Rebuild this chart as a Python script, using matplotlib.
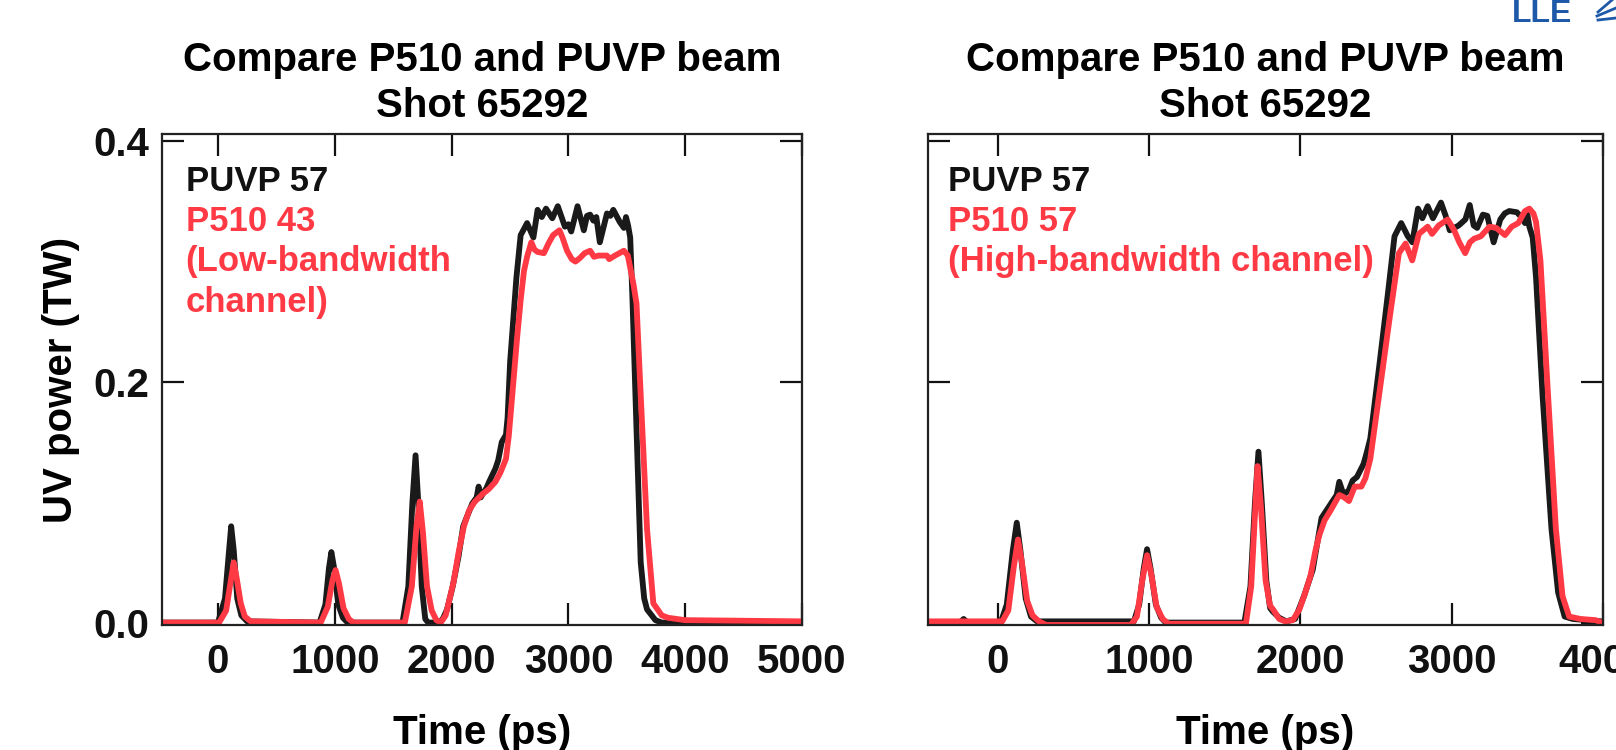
import matplotlib
matplotlib.use("Agg")
import matplotlib.pyplot as plt
from matplotlib.lines import Line2D

plt.rcParams['font.family'] = ['Liberation Sans', 'DejaVu Sans']
plt.rcParams['font.weight'] = 'bold'

# --- data ---
# left panel, PUVP 57 (black)
left_black_t = [-480, 0, 60, 95, 113, 135, 165, 200, 250, 870, 920, 950, 971, 995, 1030, 1070, 1110,
                1580, 1630, 1665, 1692, 1715, 1745, 1775, 1800, 1900, 1930, 1962, 2010, 2060, 2100,
                2124, 2178, 2215, 2232, 2250, 2268, 2300, 2322, 2376, 2400, 2430, 2466, 2480, 2502,
                2556, 2592, 2620, 2647, 2701, 2737, 2773, 2809, 2863, 2910, 2971, 3000, 3025, 3079,
                3133, 3160, 3187, 3215, 3240, 3270, 3331, 3360, 3385, 3440, 3476, 3494, 3512, 3530,
                3548, 3584, 3620, 3650, 3674, 3746, 3800, 5000]
left_black_p = [0, 0, 0.020, 0.060, 0.080, 0.060, 0.020, 0.006, 0.001, 0, 0.015, 0.045, 0.0586, 0.045,
                0.015, 0.004, 0, 0, 0.030, 0.100, 0.139, 0.100, 0.030, 0.003, 0, 0, 0.004, 0.011,
                0.030, 0.055, 0.080, 0.086, 0.099, 0.104, 0.113, 0.104, 0.107, 0.112, 0.117, 0.128,
                0.135, 0.150, 0.156, 0.170, 0.217, 0.287, 0.322, 0.327, 0.332, 0.320, 0.343, 0.337,
                0.344, 0.336, 0.346, 0.329, 0.331, 0.325, 0.346, 0.326, 0.338, 0.339, 0.334, 0.337,
                0.316, 0.340, 0.338, 0.343, 0.333, 0.328, 0.337, 0.330, 0.320, 0.273, 0.161, 0.050,
                0.020, 0.011, 0.002, 0, 0]

# left panel, P510 43 low-bandwidth channel (red)
left_red_t = [-480, 10, 70, 110, 135, 160, 195, 230, 280, 880, 940, 980, 1007, 1035, 1075, 1120, 1160,
              1600, 1660, 1700, 1728, 1755, 1790, 1830, 1870, 1908, 1950, 2016, 2060, 2106, 2150,
              2196, 2268, 2320, 2376, 2420, 2466, 2490, 2520, 2560, 2592, 2620, 2647, 2683, 2710,
              2737, 2791, 2830, 2870, 2924, 2950, 2989, 3030, 3061, 3100, 3140, 3187, 3220, 3260,
              3331, 3350, 3400, 3476, 3510, 3530, 3560, 3584, 3620, 3674, 3728, 3800, 3854, 4000, 5000]
left_red_p = [0, 0, 0.010, 0.035, 0.050, 0.037, 0.016, 0.005, 0.001, 0, 0.013, 0.035, 0.0436, 0.033,
              0.012, 0.003, 0, 0, 0.030, 0.080, 0.1005, 0.075, 0.030, 0.010, 0.002, 0, 0.006, 0.033,
              0.058, 0.080, 0.093, 0.100, 0.107, 0.111, 0.117, 0.125, 0.136, 0.155, 0.189, 0.235,
              0.268, 0.292, 0.304, 0.316, 0.310, 0.308, 0.307, 0.315, 0.322, 0.326, 0.320, 0.309,
              0.302, 0.300, 0.303, 0.307, 0.309, 0.304, 0.305, 0.305, 0.302, 0.305, 0.309, 0.305,
              0.295, 0.280, 0.265, 0.189, 0.078, 0.016, 0.006, 0.004, 0.002, 0.001]

# right panel, PUVP 57 (black)
right_black_t = [-460, -250, -225, -200, 20, 60, 100, 126, 150, 185, 220, 260, 900, 935, 965, 987, 1010,
                 1045, 1080, 1110, 1630, 1670, 1700, 1723, 1745, 1775, 1800, 1819, 1860, 1907, 1965,
                 2024, 2082, 2140, 2213, 2240, 2257, 2286, 2320, 2345, 2374, 2418, 2440, 2462, 2520,
                 2578, 2622, 2666, 2710, 2740, 2777, 2806, 2841, 2876, 2929, 2960, 2987, 3046, 3090,
                 3119, 3145, 3168, 3206, 3235, 3277, 3321, 3350, 3380, 3430, 3460, 3484, 3500, 3513,
                 3535, 3557, 3600, 3659, 3703, 3746, 3800, 3990]
right_black_p = [0, 0, 0.003, 0, 0, 0.015, 0.060, 0.083, 0.060, 0.020, 0.005, 0.001, 0.001, 0.015, 0.045,
                 0.061, 0.045, 0.015, 0.004, 0, 0, 0.030, 0.100, 0.142, 0.100, 0.035, 0.012, 0.009,
                 0.004, 0.001, 0.003, 0.022, 0.044, 0.087, 0.101, 0.106, 0.117, 0.106, 0.110, 0.118,
                 0.121, 0.132, 0.142, 0.153, 0.212, 0.273, 0.321, 0.332, 0.321, 0.316, 0.344, 0.336,
                 0.346, 0.336, 0.349, 0.338, 0.326, 0.330, 0.335, 0.347, 0.330, 0.328, 0.339, 0.338,
                 0.316, 0.335, 0.340, 0.342, 0.341, 0.337, 0.332, 0.339, 0.329, 0.320, 0.287, 0.189,
                 0.078, 0.025, 0.005, 0.003, 0.001]

# right panel, P510 57 high-bandwidth channel (red)
right_red_t = [-460, 30, 70, 105, 134, 160, 195, 230, 272, 320, 880, 920, 955, 987, 1015, 1050, 1090,
               1130, 1640, 1675, 1700, 1717, 1740, 1770, 1800, 1819, 1860, 1900, 1950, 1994, 2030,
               2067, 2100, 2126, 2160, 2199, 2257, 2290, 2321, 2359, 2403, 2430, 2462, 2520, 2593,
               2651, 2695, 2739, 2783, 2841, 2870, 2914, 2973, 3016, 3050, 3089, 3120, 3148, 3192,
               3250, 3294, 3352, 3396, 3440, 3484, 3513, 3540, 3557, 3586, 3630, 3688, 3732, 3776,
               3850, 3951, 3990]
right_red_p = [0.001, 0.001, 0.010, 0.045, 0.069, 0.050, 0.018, 0.006, 0.001, -0.002, -0.002, 0.005,
               0.035, 0.056, 0.040, 0.013, 0.003, -0.001, -0.001, 0.030, 0.090, 0.130, 0.095, 0.035,
               0.014, 0.011, 0.003, 0.001, 0.002, 0.011, 0.024, 0.039, 0.060, 0.073, 0.085, 0.093,
               0.106, 0.104, 0.101, 0.113, 0.113, 0.120, 0.136, 0.189, 0.256, 0.307, 0.315, 0.301,
               0.323, 0.329, 0.323, 0.330, 0.335, 0.326, 0.316, 0.307, 0.316, 0.319, 0.321, 0.329,
               0.328, 0.322, 0.329, 0.332, 0.342, 0.344, 0.340, 0.333, 0.301, 0.203, 0.078, 0.022,
               0.005, 0.003, 0.002, 0.0]

title_text = "Compare P510 and PUVP beam\nShot 65292"
left_labels = ["PUVP 57", "P510 43", "(Low-bandwidth", "channel)"]
right_labels = ["PUVP 57", "P510 57", "(High-bandwidth channel)"]
label_colors_left = ["black", "red", "red", "red"]
label_colors_right = ["black", "red", "red"]

BLACK = "#1a1a1a"
RED = "#ff3a45"
LOGO = "#1d59a8"
colmap = {"black": "#111111", "red": RED}

fig = plt.figure(figsize=(16.16, 7.5), dpi=100)
ax1 = fig.add_axes([0.1002, 0.1667, 0.3960, 0.6546])
ax2 = fig.add_axes([0.5743, 0.1667, 0.4177, 0.6546])


def style(ax, xlim, xticks):
    ax.set_xlim(*xlim)
    ax.set_ylim(-0.002, 0.406)
    ax.set_xticks(xticks)
    ax.set_yticks([0.0, 0.2, 0.4])
    ax.tick_params(direction='in', length=16, width=1.6, top=True, right=True,
                   labelsize=29, colors='#111111')
    ax.tick_params(axis='x', pad=13)
    ax.tick_params(axis='y', pad=9)
    for s in ax.spines.values():
        s.set_linewidth(1.6)
        s.set_color('#222222')
    ax.set_title(title_text, fontsize=29, fontweight='bold', pad=12, linespacing=1.28)
    ax.set_xlabel("Time (ps)", fontsize=29, fontweight='bold', labelpad=24)


ax1.plot(left_black_t, left_black_p, color=BLACK, lw=4.2, solid_joinstyle='round')
ax1.plot(left_red_t, left_red_p, color=RED, lw=4.2, solid_joinstyle='round')
style(ax1, (-480, 5000), [0, 1000, 2000, 3000, 4000, 5000])
ax1.yaxis.set_major_formatter(matplotlib.ticker.FormatStrFormatter('%.1f'))
ax1.set_ylabel("UV power (TW)", fontsize=29, fontweight='bold', labelpad=10)

ax2.plot(right_black_t, right_black_p, color=BLACK, lw=4.2, solid_joinstyle='round')
ax2.plot(right_red_t, right_red_p, color=RED, lw=4.2, solid_joinstyle='round')
style(ax2, (-460, 3980), [0, 1000, 2000, 3000, 4000])
ax2.set_yticklabels([])

ys_left = [0.904, 0.822, 0.741, 0.656]
for txt, c, y in zip(left_labels, label_colors_left, ys_left):
    ax1.text(0.037, y, txt, transform=ax1.transAxes, color=colmap[c], fontsize=25,
             fontweight='bold', va='center', ha='left')
for txt, c, y in zip(right_labels, label_colors_right, ys_left[:3]):
    ax2.text(0.030, y, txt, transform=ax2.transAxes, color=colmap[c], fontsize=25,
             fontweight='bold', va='center', ha='left')

# logo fragment at top right
fig.text(1512 / 1616, 1 - 22 / 750, "LLE", color=LOGO, fontsize=23, fontweight='bold',
         ha='left', va='baseline')
for x0, y0, x1, y1 in [(1598, 12, 1612, 0), (1597, 16, 1616, 8), (1598, 20, 1616, 18)]:
    fig.add_artist(Line2D([x0 / 1616, x1 / 1616], [1 - y0 / 750, 1 - y1 / 750],
                          transform=fig.transFigure, color=LOGO, lw=2))

fig.savefig("out.png", dpi=100)
